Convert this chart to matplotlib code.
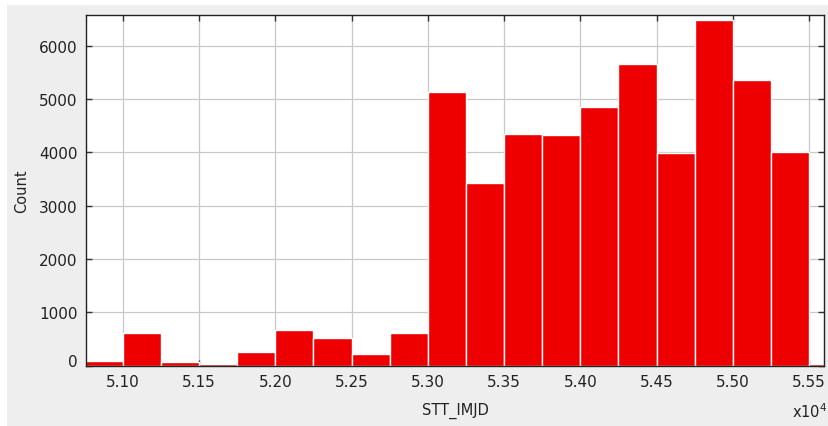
import matplotlib
matplotlib.use("Agg")
import matplotlib.pyplot as plt
import matplotlib.transforms as mtransforms
from matplotlib.patches import Rectangle

# Histogram data (bin left edges in MJD, counts)
bin_lefts = [50750, 51000, 51250, 51500, 51750, 52000, 52250, 52500, 52750,
             53000, 53250, 53500, 53750, 54000, 54250, 54500, 54750, 55000,
             55250, 55500]
counts = [90, 619, 63, 38, 250, 669, 513, 219, 615,
          5140, 3431, 4350, 4320, 4845, 5663, 3982, 6476, 5351,
          4001, 25]
bin_width = 250

xticks = [51000, 51500, 52000, 52500, 53000, 53500, 54000, 54500, 55000, 55500]
xtick_labels = ["5.10", "5.15", "5.20", "5.25", "5.30", "5.35", "5.40", "5.45", "5.50", "5.55"]
yticks = [0, 1000, 2000, 3000, 4000, 5000, 6000]

W, H = 829, 427
fig = plt.figure(figsize=(W / 100, H / 100), dpi=100, facecolor="white")
fig.patches.append(Rectangle((7 / W, 0), 1 - 7 / W, 1 - 6 / H,
                             transform=fig.transFigure, facecolor="#eeeeee",
                             edgecolor="none", zorder=-10))
ax = fig.add_axes([86 / W, 1 - 366.6 / H, (824 - 86) / W, (366.6 - 16) / H])
ax.set_facecolor("white")

ax.bar(bin_lefts, counts, width=bin_width, align="edge", color="#ee0000",
       edgecolor="white", linewidth=1.0, zorder=2)

ax.set_xlim(50758, 55598)
ax.set_ylim(0, 6578)
ax.set_xticks(xticks)
ax.set_xticklabels(xtick_labels)
ax.set_yticks(yticks)
ax.grid(True, color="#c8c8c8", linewidth=0.9, zorder=0)
ax.set_axisbelow(True)
ax.tick_params(direction="in", length=4, width=1, color="#333333",
               labelsize=11, labelcolor="#222222", top=True, right=True, pad=6)
for s in ax.spines.values():
    s.set_color("#222222")
    s.set_linewidth(1.0)

# shift the "0" label up slightly as in the reference
lab0 = ax.get_yticklabels()[0]
lab0.set_transform(lab0.get_transform() + mtransforms.ScaledTranslation(0, 6 / 100, fig.dpi_scale_trans))

ax.set_xlabel("STT_IMJD", fontsize=10.5, color="#222222", labelpad=9)
ax.set_ylabel("Count", fontsize=10.5, color="#222222", labelpad=7)
fig.text(810 / W, 1 - 412 / H, r"x10$^4$", fontsize=10.5, color="#222222",
         ha="center", va="center")

fig.savefig("out.png", dpi=100, facecolor=fig.get_facecolor())
